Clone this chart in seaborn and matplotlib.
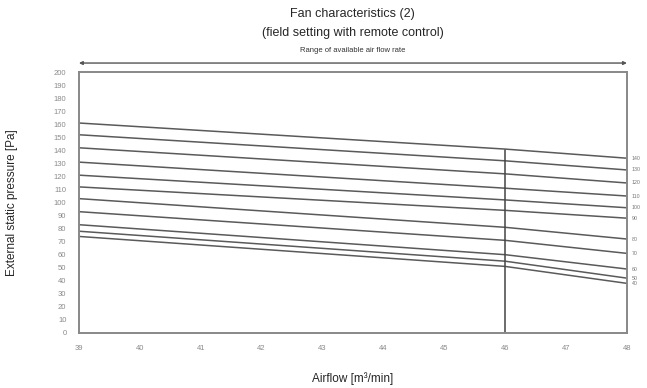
import pandas as pd
import matplotlib.pyplot as plt
import seaborn as sns

# Fan curves: pressure at airflow 39, 46 and 48 m3/min
airflow = [39, 46, 48]
settings = ["140", "130", "120", "110", "100", "90", "80", "70", "60", "50", "40"]
p_at_39 = [161, 152, 142, 131, 121, 112, 103, 93, 83, 78, 74]
p_at_46 = [141, 132, 122, 111, 102, 94, 81, 71, 60, 55, 51]
p_at_48 = [134, 125, 115, 105, 96, 88, 72, 61, 49, 42, 38]

x_ticks = list(range(39, 49))
y_ticks = list(range(0, 201, 10))
limit_airflow = 46
limit_pressure = 140

rows = []
for s, a, b, c in zip(settings, p_at_39, p_at_46, p_at_48):
    for x, y in zip(airflow, [a, b, c]):
        rows.append({"setting": s, "airflow": x, "pressure": y})
df = pd.DataFrame(rows)

sns.set_style("white")
plt.rcParams["font.family"] = ["Liberation Sans", "DejaVu Sans"]

fig = plt.figure(figsize=(6.47, 3.88), dpi=100)
ax = fig.add_axes([0.122, 0.142, 0.847, 0.672])

sns.lineplot(data=df, x="airflow", y="pressure", hue="setting",
             palette=["#5a5a5a"] * len(settings), legend=False,
             linewidth=1.1, ax=ax)

# vertical limit line
ax.plot([limit_airflow, limit_airflow], [0, limit_pressure], color="#444444", lw=1.1)

ax.set_xlim(39, 48)
ax.set_ylim(0, 200)
ax.set_xticks(x_ticks)
ax.set_yticks(y_ticks)
ax.tick_params(axis="both", labelsize=5.5, colors="#8a8a8a", length=2, width=0.6,
               direction="in")
ax.tick_params(axis="x", pad=9)
ax.tick_params(axis="y", pad=9)
for sp in ax.spines.values():
    sp.set_color("#888888")
    sp.set_linewidth(1.4)

ax.set_xlabel("Airflow [m³/min]", fontsize=8.5, labelpad=14)
ax.set_ylabel("External static pressure [Pa]", fontsize=8.5, labelpad=26)

# setting labels on the right side
for s, y in zip(settings, p_at_48):
    ax.text(48.08, y, s, fontsize=3.8, color="#777777", va="center", ha="left")

# range arrow above the plot
ax.annotate("", xy=(39, 207), xytext=(48, 207), xycoords="data",
            arrowprops=dict(arrowstyle="<|-|>", color="#555555", lw=1.0,
                            mutation_scale=5, shrinkA=0, shrinkB=0),
            annotation_clip=False)
ax.text(43.5, 214, "Range of available air flow rate", fontsize=5.5,
        ha="center", va="bottom", color="#333333")

fig.text(0.545, 0.963, "Fan characteristics (2)", fontsize=9, ha="center", va="center")
fig.text(0.545, 0.916, "(field setting with remote control)", fontsize=9,
         ha="center", va="center")

fig.savefig("out.png", dpi=100)
